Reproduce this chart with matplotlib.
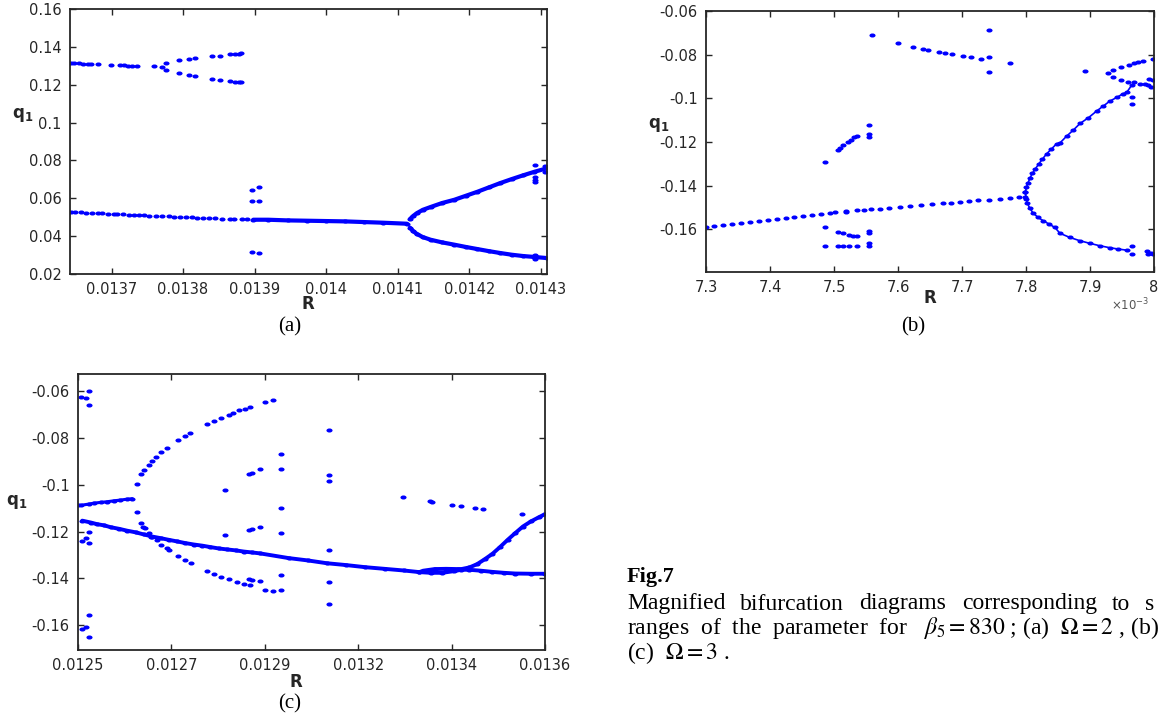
import matplotlib
matplotlib.use('Agg')
import matplotlib.pyplot as plt
from matplotlib.path import Path
from matplotlib.transforms import Affine2D

plt.rcParams['mathtext.fontset'] = 'dejavusans'

# ---------------- panel (a): Omega = 2 ----------------
a_top_x = [0.013644, 0.013648, 0.013654, 0.01366, 0.013667, 0.013671, 0.013681, 0.013699,
           0.013712, 0.013717, 0.013723, 0.013729, 0.013735, 0.013759, 0.01377]
a_top_y = [0.13151, 0.13151, 0.13133, 0.13116, 0.13098, 0.13098, 0.1308, 0.13045,
           0.13028, 0.13028, 0.1301, 0.1301, 0.12993, 0.12975, 0.12957]
a_pair_x = [0.013776, 0.013795, 0.013808, 0.013817, 0.013841, 0.013851, 0.013865, 0.013872,
            0.013878, 0.013881]
a_pair_hi = [0.13133, 0.13292, 0.13344, 0.13397, 0.13503, 0.13538, 0.13608, 0.13626,
             0.13626, 0.13661]
a_pair_lo = [0.12782, 0.12606, 0.125, 0.12447, 0.12289, 0.12254, 0.12184, 0.12166,
             0.12148, 0.12131]

a_main_x = [0.013643, 0.013649, 0.013657, 0.013664, 0.013673, 0.013681, 0.013687, 0.013695,
            0.013703, 0.013708, 0.013716, 0.013724, 0.013732, 0.013739, 0.013745, 0.013753,
            0.013762, 0.01377, 0.01378, 0.013788, 0.013796, 0.013804, 0.013812, 0.01382,
            0.013828, 0.013836, 0.013844, 0.013855, 0.013866, 0.013871, 0.013883, 0.01389]
a_main_y = [0.05289, 0.05272, 0.05254, 0.05237, 0.05219, 0.05219, 0.05202, 0.05184,
            0.05184, 0.05166, 0.05149, 0.05131, 0.05131, 0.05114, 0.05096, 0.05079,
            0.05079, 0.05061, 0.05043, 0.05026, 0.05026, 0.05008, 0.04991, 0.04973,
            0.04973, 0.04955, 0.04955, 0.0492, 0.0492, 0.04903, 0.04903, 0.04885]
a_stable_x = [0.013898, 0.013919, 0.013946, 0.013973, 0.014, 0.014026, 0.014053, 0.01408,
              0.014113]
a_stable_y = [0.04867, 0.04867, 0.04832, 0.04815, 0.04797, 0.0478, 0.04744, 0.04709, 0.04656]

a_bif_x = [0.014117, 0.014122, 0.014127, 0.014135, 0.014146, 0.014162, 0.014179, 0.014195,
           0.014211, 0.014227, 0.014243, 0.014259, 0.014275, 0.014291, 0.014309]
a_bif_hi = [0.0490, 0.0508, 0.0522, 0.0539, 0.0554, 0.0575, 0.0592, 0.0613,
            0.0634, 0.0657, 0.0680, 0.0701, 0.0721, 0.0740, 0.0759]
a_bif_lo = [0.0445, 0.0425, 0.0411, 0.0395, 0.0381, 0.0367, 0.0355, 0.0343,
            0.0332, 0.0321, 0.0311, 0.0302, 0.0295, 0.0290, 0.0284]

a_loose_x = [0.013897, 0.013906, 0.013897, 0.013906, 0.013897, 0.013906,
             0.014292, 0.014292, 0.014292, 0.014292, 0.014292, 0.014292, 0.014292,
             0.014306, 0.014306]
a_loose_y = [0.0645, 0.0659, 0.0587, 0.0587, 0.0318, 0.0311,
             0.0777, 0.0715, 0.0698, 0.0684, 0.0302, 0.0293, 0.0279,
             0.0768, 0.0737]

a_xticks = [0.0137, 0.0138, 0.0139, 0.014, 0.0141, 0.0142, 0.0143]
a_xlabels = ['0.0137', '0.0138', '0.0139', '0.014', '0.0141', '0.0142', '0.0143']
a_yticks = [0.02, 0.04, 0.06, 0.08, 0.10, 0.12, 0.14, 0.16]
a_ylabels = ['0.02', '0.04', '0.06', '0.08', '0.1', '0.12', '0.14', '0.16']

# ---------------- panel (b): R in units of 1e-3 ----------------
b_main_x = [7.3, 7.3128, 7.3268, 7.3407, 7.3546, 7.3686, 7.3825, 7.3964, 7.4104, 7.4243,
            7.4382, 7.4522, 7.4661, 7.48, 7.494, 7.5023, 7.5191, 7.5358, 7.5469, 7.5581,
            7.572, 7.586, 7.6027, 7.6194, 7.6361, 7.6528, 7.6696, 7.6835, 7.6974, 7.7114,
            7.7253, 7.742, 7.7588, 7.7755, 7.7894, 7.7978]
b_main_y = [-0.1588, -0.1583, -0.1579, -0.1574, -0.1569, -0.1565, -0.1560, -0.1556, -0.1551,
            -0.1546, -0.1542, -0.1537, -0.1533, -0.1528, -0.1523, -0.1520, -0.1517, -0.1513,
            -0.1511, -0.1508, -0.1505, -0.1502, -0.1497, -0.1493, -0.1490, -0.1485, -0.1481,
            -0.1477, -0.1474, -0.1470, -0.1467, -0.1464, -0.1461, -0.1456, -0.1453, -0.1451]

b_up_x = [7.7990, 7.8006, 7.8033, 7.8061, 7.81, 7.8145, 7.8201, 7.8256, 7.8323, 7.8396,
          7.8479, 7.8531, 7.8635, 7.874, 7.8844, 7.8974, 7.9104, 7.9208, 7.9313, 7.9417,
          7.9521, 7.9573, 7.9651]
b_up_y = [-0.1430, -0.1407, -0.1386, -0.1366, -0.1343, -0.1323, -0.1300, -0.1278, -0.1254,
          -0.1232, -0.1208, -0.1204, -0.1173, -0.1145, -0.1115, -0.1089, -0.1058, -0.1035,
          -0.1012, -0.0996, -0.0978, -0.0973, -0.0940]
b_dn_x = [7.7990, 7.8006, 7.8022, 7.8061, 7.8117, 7.8189, 7.8267, 7.8357, 7.8451, 7.8531,
          7.8687, 7.8844, 7.9, 7.9156, 7.9313, 7.9443, 7.9573]
b_dn_y = [-0.1430, -0.1462, -0.1481, -0.1504, -0.1527, -0.1545, -0.1560, -0.1575, -0.1591,
          -0.1618, -0.1637, -0.1652, -0.1664, -0.1675, -0.1684, -0.1690, -0.1695]

b_hi_x = [7.8922, 7.9286, 7.9364, 7.9484, 7.9609, 7.9688, 7.9755, 7.9833, 7.9979]
b_hi_y = [-0.0877, -0.0884, -0.0871, -0.0858, -0.0845, -0.0838, -0.0834, -0.0829, -0.0821]
b_mid_x = [7.9364, 7.9484, 7.9599, 7.9688, 7.9781, 7.9859, 7.9911, 7.9948, 7.9927, 7.9979]
b_mid_y = [-0.0904, -0.0917, -0.0923, -0.0927, -0.0932, -0.0932, -0.0940, -0.0946,
           -0.0912, -0.0915]

b_loose_x = [7.5589, 7.5995, 7.624, 7.6396, 7.6464, 7.6646, 7.6734, 7.6849, 7.7011, 7.7136,
             7.7292, 7.7417, 7.7417, 7.7417, 7.7755,
             7.4859, 7.5058, 7.5094, 7.5136, 7.5224, 7.5266, 7.5313, 7.5355,
             7.5547, 7.5547, 7.5547,
             7.4859, 7.4859, 7.5067, 7.5136, 7.524, 7.5302, 7.5355,
             7.5067, 7.5136, 7.524, 7.5355, 7.5547, 7.5547, 7.5547, 7.5547, 7.5188,
             7.9651, 7.9651, 7.9651, 7.9651, 7.9885, 7.9911, 7.9948, 7.9979]
b_loose_y = [-0.0708, -0.0747, -0.0766, -0.0775, -0.0780, -0.0789, -0.0794, -0.0798, -0.0807,
             -0.0812, -0.0821, -0.0689, -0.0809, -0.0881, -0.0840,
             -0.1291, -0.1235, -0.1225, -0.1215, -0.1198, -0.1189, -0.1179, -0.1171,
             -0.1124, -0.1164, -0.1176,
             -0.1589, -0.1674, -0.1612, -0.1618, -0.1626, -0.1631, -0.1632,
             -0.1677, -0.1677, -0.1677, -0.1677, -0.1606, -0.1618, -0.1662, -0.1677, -0.1520,
             -0.0992, -0.1024, -0.1677, -0.1714, -0.1698, -0.1714, -0.1706, -0.1714]

b_xticks = [7.3, 7.4, 7.5, 7.6, 7.7, 7.8, 7.9, 8.0]
b_xlabels = ['7.3', '7.4', '7.5', '7.6', '7.7', '7.8', '7.9', '8']
b_yticks = [-0.16, -0.14, -0.12, -0.10, -0.08, -0.06]
b_ylabels = ['-0.16', '-0.14', '-0.12', '-0.1', '-0.08', '-0.06']

# ---------------- panel (c): Omega = 3 ----------------
c_left_x = [0.0125, 0.012508, 0.012526, 0.012538, 0.012553, 0.012569, 0.012585, 0.0126,
            0.012616, 0.012628]
c_left_y = [-0.1088, -0.1087, -0.1082, -0.1078, -0.1075, -0.1072, -0.1068, -0.1065,
            -0.1061, -0.1059]

c_up_x = [0.012638, 0.012649, 0.012655, 0.012667, 0.012675, 0.012684, 0.012695, 0.012709,
          0.012736, 0.012751, 0.012763, 0.012804, 0.012821, 0.012837, 0.012855, 0.012865,
          0.012879, 0.012894, 0.012906, 0.012941, 0.012959]
c_up_y = [-0.0997, -0.0954, -0.0935, -0.0914, -0.0900, -0.0881, -0.0861, -0.0843,
          -0.0810, -0.0793, -0.0778, -0.0738, -0.0727, -0.0714, -0.0700, -0.0693,
          -0.0681, -0.0674, -0.0667, -0.0646, -0.0639]
c_dn_x = [0.012638, 0.012649, 0.012654, 0.012657, 0.012667, 0.012673, 0.012687, 0.012696,
          0.012709, 0.012714, 0.012736, 0.012751, 0.012765, 0.012804, 0.012821, 0.012837,
          0.012855, 0.012874, 0.01289, 0.012906, 0.012941, 0.012959]
c_dn_y = [-0.1118, -0.1161, -0.1178, -0.1185, -0.1206, -0.1221, -0.1235, -0.1255,
          -0.1270, -0.1280, -0.1303, -0.1320, -0.1335, -0.1370, -0.1383, -0.1395,
          -0.1403, -0.1415, -0.1423, -0.1430, -0.1449, -0.1453]

c_main_x = [0.01251, 0.01253, 0.012545, 0.012561, 0.012577, 0.012597, 0.012616, 0.012636,
            0.012655, 0.012675, 0.012695, 0.012714, 0.012734, 0.012753, 0.012773, 0.012793,
            0.012812, 0.012832, 0.012851, 0.012871, 0.01289, 0.01291, 0.012929, 0.012996,
            0.013041, 0.013086, 0.013132, 0.013177, 0.013222, 0.013267, 0.013304, 0.013331,
            0.013358, 0.013385, 0.013403, 0.013422, 0.013449, 0.013476, 0.013503, 0.01353,
            0.013567, 0.0136]
c_main_y = [-0.1153, -0.1161, -0.1168, -0.1173, -0.1181, -0.1188, -0.1196, -0.1203,
            -0.1212, -0.1221, -0.1228, -0.1235, -0.1242, -0.1249, -0.1255, -0.1260,
            -0.1266, -0.1272, -0.1276, -0.1280, -0.1285, -0.1289, -0.1293, -0.1313,
            -0.1323, -0.1335, -0.1343, -0.1352, -0.1359, -0.1366, -0.1373, -0.1376,
            -0.1376, -0.1369, -0.1363, -0.1363, -0.1367, -0.1372, -0.1376, -0.1379,
            -0.1380, -0.1380]
c_loop_x = [0.013304, 0.013313, 0.01334, 0.013367, 0.013394, 0.013403, 0.013422, 0.01344,
            0.013458, 0.013476, 0.013494, 0.013512, 0.01353, 0.013548, 0.013567, 0.013585,
            0.0136]
c_loop_y = [-0.1373, -0.1367, -0.1360, -0.1359, -0.1360, -0.1360, -0.1353, -0.1339,
            -0.1318, -0.1295, -0.1266, -0.1235, -0.1206, -0.1178, -0.1156, -0.1139,
            -0.1125]

c_loose_x = [0.012508, 0.012518, 0.012526, 0.012526, 0.01251, 0.01252, 0.012526, 0.012526,
             0.012526, 0.01251, 0.01252, 0.012526,
             0.012846, 0.012846, 0.012903, 0.01291, 0.012929, 0.012903, 0.01291, 0.012929,
             0.012903, 0.01291, 0.012929,
             0.012979, 0.012979, 0.012979, 0.012979, 0.012979, 0.012979,
             0.013091, 0.013091, 0.013091, 0.013091, 0.013091, 0.013091,
             0.013266, 0.013329, 0.013335, 0.013381, 0.013403, 0.013435, 0.013453, 0.013547]
c_loose_y = [-0.0626, -0.0627, -0.0600, -0.0657, -0.1238, -0.1228, -0.1201, -0.1250,
             -0.1556, -0.1617, -0.1606, -0.1651,
             -0.1021, -0.1213, -0.0952, -0.0950, -0.0932, -0.1192, -0.1189, -0.1178,
             -0.1403, -0.1406, -0.1409,
             -0.0868, -0.0932, -0.1101, -0.1206, -0.1385, -0.1449,
             -0.0764, -0.0958, -0.0984, -0.1279, -0.1417, -0.1509,
             -0.1051, -0.1071, -0.1072, -0.1085, -0.1091, -0.1098, -0.1102, -0.1124]

c_xticks = [0.0125, 0.01272, 0.01294, 0.01316, 0.01338, 0.0136]
c_xlabels = ['0.0125', '0.0127', '0.0129', '0.0132', '0.0134', '0.0136']
c_yticks = [-0.16, -0.14, -0.12, -0.10, -0.08, -0.06]
c_ylabels = ['-0.16', '-0.14', '-0.12', '-0.1', '-0.08', '-0.06']

BLUE = '#0000ff'
TXT = '#262626'
W, H = 1159, 717

# slightly flattened dot, like the exported MATLAB markers
dot = Path.unit_circle().transformed(Affine2D().scale(1.5, 1.0))


def px(x0, y0, x1, y1):
    # pixel box (top-left origin) -> figure fraction rect
    return [x0 / W, 1 - y1 / H, (x1 - x0) / W, (y1 - y0) / H]


def dots(ax, x, y, ms=4.4):
    ax.plot(x, y, ls='none', marker=dot, ms=ms, color=BLUE, mec=BLUE, mew=0)


def branch(ax, x, y, lw=2.6):
    ax.plot(x, y, '-', color=BLUE, lw=lw, solid_capstyle='round')
    dots(ax, x, y)


def setup(ax, xlim, ylim, xt, xl, yt, yl):
    ax.set_xlim(xlim)
    ax.set_ylim(ylim)
    ax.set_xticks(xt)
    ax.set_xticklabels(xl)
    ax.set_yticks(yt)
    ax.set_yticklabels(yl)
    ax.tick_params(direction='in', length=4, width=1.0, top=True, right=True,
                   labelsize=10.5, labelcolor=TXT, color=TXT, pad=6)
    for s in ax.spines.values():
        s.set_linewidth(1.3)
        s.set_color(TXT)


def fig_txt(x, y, s, **kw):
    fig.text(x / W, 1 - y / H, s, **kw)


fig = plt.figure(figsize=(W / 100, H / 100), dpi=100)

# (a)
ax = fig.add_axes(px(70, 9, 547, 274))
setup(ax, (0.013642, 0.0143086), (0.02, 0.16), a_xticks, a_xlabels, a_yticks, a_ylabels)
dots(ax, a_top_x, a_top_y)
dots(ax, a_pair_x, a_pair_hi)
dots(ax, a_pair_x, a_pair_lo)
dots(ax, a_main_x, a_main_y)
branch(ax, a_stable_x, a_stable_y, lw=3.0)
branch(ax, a_bif_x, a_bif_hi, lw=3.0)
branch(ax, a_bif_x, a_bif_lo, lw=3.0)
dots(ax, a_loose_x, a_loose_y)

# (b)
bx = fig.add_axes(px(706, 11, 1154, 272))
setup(bx, (7.3, 8.0), (-0.1795, -0.06), b_xticks, b_xlabels, b_yticks, b_ylabels)
dots(bx, b_main_x, b_main_y)
branch(bx, b_up_x, b_up_y, lw=1.2)
branch(bx, b_dn_x, b_dn_y, lw=1.2)
dots(bx, b_hi_x, b_hi_y)
dots(bx, b_mid_x, b_mid_y)
dots(bx, b_loose_x, b_loose_y)

# (c)
cx = fig.add_axes(px(78, 374, 545, 650))
setup(cx, (0.0125, 0.0136), (-0.1706, -0.0526), c_xticks, c_xlabels, c_yticks, c_ylabels)
branch(cx, c_left_x, c_left_y, lw=2.2)
dots(cx, c_up_x, c_up_y)
dots(cx, c_dn_x, c_dn_y)
branch(cx, c_main_x, c_main_y, lw=2.8)
branch(cx, c_loop_x, c_loop_y, lw=2.8)
dots(cx, c_loose_x, c_loose_y)

# axis labels
q1 = r'$\mathbf{q}_{\mathbf{1}}$'
lab = dict(fontsize=12, fontweight='bold', color=TXT, ha='center', va='center',
           family='DejaVu Sans')
fig_txt(23, 115, q1, **lab)
fig_txt(659, 125, q1, **lab)
fig_txt(17, 502, q1, **lab)
fig_txt(308, 304, 'R', **lab)
fig_txt(930, 298, 'R', **lab)
fig_txt(296, 682, 'R', **lab)
fig_txt(1130, 305, r'$\times10^{-3}$', fontsize=8.5, color='#555555', ha='center',
        va='center')

# panel tags and caption
serif = ['Liberation Serif', 'DejaVu Serif']
fig_txt(290, 327, '(a)', fontsize=15, family=serif, ha='center', va='center')
fig_txt(913, 327, '(b)', fontsize=15, family=serif, ha='center', va='center')
fig_txt(290, 704, '(c)', fontsize=15, family=serif, ha='center', va='center')

fig_txt(627, 577, 'Fig.7', fontsize=16, family=serif, fontweight='bold', va='center')
# justified first caption line, cut by the right edge
words = ['Magnified', 'bifurcation', 'diagrams', 'corresponding', 'to', 's']
word_x = [627, 740, 859, 962, 1112, 1145]
for w, x in zip(words, word_x):
    fig_txt(x, 604, w, fontsize=17, family=serif, va='center')
fig_txt(627, 628,
        r'ranges  of  the  parameter  for   $\beta_5 = 830$ ; (a)  $\Omega = 2$ , (b)',
        fontsize=17, family=serif, va='center', math_fontfamily='stix')
fig_txt(627, 653, r'(c)  $\Omega = 3$ .', fontsize=17, family=serif, va='center',
        math_fontfamily='stix')

fig.savefig('out.png', dpi=100)
